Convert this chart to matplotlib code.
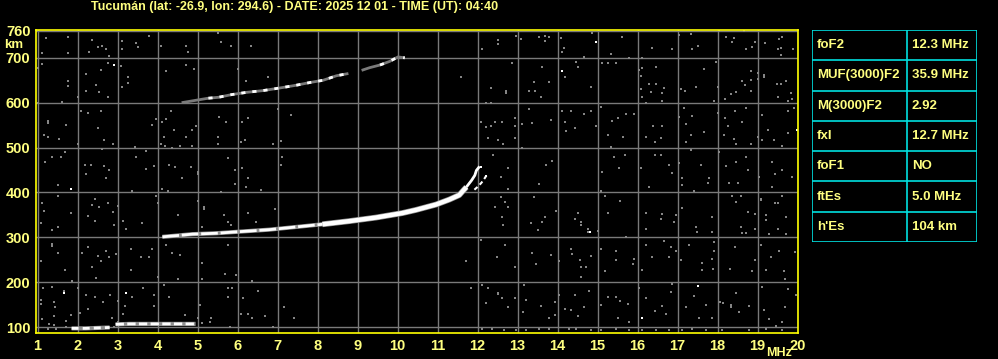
import matplotlib.pyplot as plt

plt.rcParams['font.family'] = ['Liberation Sans Narrow', 'Liberation Sans', 'DejaVu Sans']
plt.rcParams['font.weight'] = 'bold'

# Titulo e tabela de parametros
titulo = "Tucumán (lat: -26.9, lon: 294.6) - DATE: 2025 12 01 - TIME (UT): 04:40"
param_nomes = ["foF2", "MUF(3000)F2", "M(3000)F2", "fxI", "foF1", "ftEs", "h'Es"]
param_valores = ["12.3 MHz", "35.9 MHz", "2.92", "12.7 MHz", "NO", "5.0 MHz", "104 km"]

# Traco F2 (modo ordinario), MHz / km
f2o_freq = [4.12, 4.5, 4.87, 5.46, 6.12, 6.79, 7.46, 8.12]
f2o_h = [301, 304, 307, 309, 313, 317, 323, 329]
f2o_freq_b = [8.12, 8.79, 9.46, 10.12, 10.46, 10.96, 11.29, 11.54, 11.72]
f2o_h_b = [329, 336, 344, 354, 361, 373, 384, 394, 412]
f2o_freq_c = [11.72, 11.85, 11.93, 11.97, 12.05]
f2o_h_c = [412, 427, 438, 449, 458]

# Traco F2 (modo extraordinario)
f2x_freq = [11.92, 12.02, 12.1, 12.18, 12.25]
f2x_h = [406, 414, 422, 432, 442]

# Segunda reflexao F2
hop2_freq = [4.6, 5.0, 5.27, 5.52, 5.85, 6.22, 6.64, 7.14, 7.47, 7.81, 8.14, 8.47, 8.77]
hop2_h = [600, 606, 610, 612, 618, 623, 627, 634, 639, 645, 650, 660, 665]
hop2b_freq = [9.1, 9.3, 9.56, 9.8, 10.01, 10.18]
hop2b_h = [672, 678, 684, 692, 702, 700]

# Camada Es
es1_freq = [1.85, 2.2, 2.5, 2.8]
es1_h = [97, 97, 98, 99]
es2_freq = [2.95, 3.3, 3.7, 4.1, 4.5, 4.95]
es2_h = [106, 107, 107, 107, 107, 107]

# Pontos de ruido
ruido = [
    (1.21, 744), (1.77, 746), (1.12, 710), (1.77, 710), (1.12, 687), (1.02, 678), (1.77, 649),
    (1.77, 638), (1.62, 602), (1.02, 600), (2.37, 739), (2.5, 724), (2.62, 727), (2.29, 714),
    (2.71, 720), (2.79, 704), (2.77, 689), (2.2, 664), (2.58, 673), (2.47, 640),
    (2.54, 623), (2.22, 625), (2.0, 613), (2.77, 613), (3.1, 738), (3.12, 720), (3.47, 732),
    (3.5, 723), (3.79, 749), (4.08, 727), (3.08, 682), (3.25, 658), (3.27, 644), (3.12, 636),
    (4.22, 671), (4.72, 727), (4.77, 714), (4.72, 684), (4.92, 675), (5.52, 755), (5.58, 735),
    (5.83, 727), (6.33, 727), (6.22, 649), (6.77, 657), (6.02, 676),
    (1.27, 560), (1.27, 554), (1.17, 527), (1.27, 524), (1.54, 518), (1.72, 551), (2.08, 582),
    (2.27, 578), (2.58, 582), (2.52, 543), (2.67, 516), (2.89, 507), (2.02, 507), (2.62, 496),
    (1.58, 478), (1.37, 480), (1.69, 489), (1.19, 467), (2.19, 462), (2.33, 462), (2.22, 440),
    (2.67, 458), (2.79, 449), (2.72, 433), (3.44, 502), (3.47, 480), (3.72, 493), (3.72, 453),
    (3.92, 458), (3.87, 551), (3.97, 564), (4.12, 556), (4.22, 564), (4.33, 582), (4.17, 524),
    (4.08, 507), (4.19, 504), (4.37, 500), (4.42, 540), (4.56, 504), (4.72, 524), (4.87, 540),
    (4.87, 504), (4.97, 547), (4.29, 462), (4.44, 456), (4.62, 433), (4.83, 456), (5.02, 445),
    (5.02, 440), (5.54, 569), (5.72, 558), (6.12, 558), (6.27, 565), (5.52, 524), (5.5, 507),
    (6.08, 512), (6.19, 516), (5.77, 476), (5.94, 449), (6.12, 455), (6.27, 433), (6.89, 507),
    (7.08, 514), (7.12, 480), (7.08, 462), (7.02, 586), (7.33, 573),
    (12.12, 719), (12.52, 739), (12.52, 730), (12.97, 749), (13.08, 742), (13.54, 746),
    (13.68, 749), (13.79, 746), (13.68, 738), (14.08, 744), (14.16, 722), (14.12, 714),
    (14.87, 756), (15.62, 746), (15.33, 708), (14.67, 702), (15.79, 700), (16.12, 700),
    (16.37, 722), (16.87, 719), (17.04, 750), (17.33, 752), (17.52, 727), (17.37, 719),
    (18.04, 759), (18.2, 746), (18.41, 744), (18.37, 735), (18.66, 759), (18.71, 719),
    (18.87, 724), (18.94, 735), (19.19, 732), (19.54, 742), (19.62, 746), (19.58, 722),
    (19.5, 719), (19.58, 707), (19.89, 719), (11.58, 658), (12.87, 688), (12.72, 627),
    (12.72, 622), (12.33, 633), (12.22, 600), (12.33, 600), (13.62, 680), (13.42, 645),
    (13.29, 627), (13.43, 627), (13.58, 613), (13.79, 645), (14.18, 658), (14.47, 690),
    (14.52, 679), (14.83, 636), (15.12, 689), (15.27, 689), (15.47, 689), (16.04, 673),
    (16.08, 660), (16.12, 677), (16.29, 641), (16.47, 679), (16.47, 641), (16.08, 630),
    (16.33, 623), (16.62, 621), (16.66, 633), (16.12, 612), (16.22, 600), (16.62, 604),
    (17.08, 630), (17.19, 627), (17.47, 636), (17.67, 675), (17.97, 690), (18.02, 636),
    (17.91, 604), (18.19, 608), (18.33, 619), (18.47, 623), (18.62, 649), (18.69, 640),
    (18.83, 671), (18.83, 651), (18.83, 627), (19.02, 667), (19.02, 653), (19.17, 662),
    (19.17, 658), (19.48, 641), (19.58, 641), (19.72, 649), (19.83, 621), (19.52, 612),
    (19.77, 604), (19.87, 608),
    (12.08, 558), (12.22, 545), (12.33, 547), (12.44, 556), (12.62, 556), (12.94, 566),
    (12.94, 547), (12.27, 521), (12.5, 517), (12.64, 507), (12.94, 521), (13.12, 500),
    (13.12, 552), (13.29, 587), (13.37, 554), (13.83, 561), (14.12, 582), (14.33, 582),
    (14.67, 575), (14.83, 582), (14.18, 558), (14.22, 538), (14.43, 544), (14.97, 549),
    (15.08, 591), (15.27, 529), (15.37, 560), (15.52, 566), (15.72, 575), (15.91, 575),
    (15.64, 524), (15.33, 502), (16.2, 523), (16.39, 547), (16.58, 521), (16.44, 512),
    (16.62, 547), (17.04, 569), (17.17, 588), (17.37, 571), (17.22, 552), (17.33, 529),
    (17.22, 512), (17.67, 534), (17.33, 495), (18.0, 578), (18.19, 566), (18.27, 549),
    (18.43, 582), (18.62, 556), (18.71, 588), (18.83, 508), (19.0, 524), (19.12, 516),
    (19.27, 540), (19.12, 573), (19.41, 517), (19.62, 504), (19.77, 582), (19.77, 532),
    (19.91, 589), (18.17, 529), (18.41, 519), (18.46, 508), (12.39, 484), (12.58, 434),
    (12.77, 455), (13.87, 471), (13.72, 462), (15.12, 445), (15.42, 480), (15.54, 455),
    (15.69, 484), (16.08, 455), (16.44, 484), (16.58, 484), (16.79, 462), (16.87, 443),
    (17.04, 465), (17.12, 433), (17.58, 462), (17.79, 433), (18.04, 490), (18.22, 458),
    (18.47, 467), (18.72, 480), (18.77, 449), (19.04, 434), (19.37, 467), (19.44, 441),
    (19.62, 449), (19.86, 434),
    (1.5, 416), (1.11, 376), (1.52, 393), (1.17, 358), (1.08, 332), (1.37, 317), (1.5, 324),
    (1.83, 354), (2.44, 386), (2.37, 373), (2.54, 367), (2.77, 376), (2.89, 356), (3.02, 369),
    (2.27, 347), (2.44, 336), (2.92, 327), (3.14, 336), (3.21, 319), (3.62, 332), (3.37, 404),
    (3.97, 393), (4.02, 376), (4.12, 408), (4.27, 403), (4.52, 349), (5.02, 381), (5.17, 367),
    (5.17, 362), (5.12, 323), (5.67, 349), (5.77, 334), (5.83, 327), (6.27, 354), (6.46, 334),
    (5.94, 419), (6.22, 412), (6.58, 406), (5.58, 401), (6.94, 362), (1.37, 284), (1.37, 280),
    (1.52, 265), (1.08, 247), (1.69, 228), (1.87, 203), (2.12, 265), (2.25, 278), (2.5, 258),
    (2.58, 247), (2.72, 269), (2.79, 256), (2.96, 262), (2.36, 234), (2.47, 210), (3.33, 273),
    (3.33, 228), (3.58, 255), (3.79, 255), (3.87, 275), (4.02, 212), (4.2, 282), (4.36, 265),
    (4.52, 206), (4.56, 260), (5.12, 243), (5.12, 206), (5.69, 219), (5.77, 282), (5.96, 216),
    (6.37, 203), (1.14, 188), (1.37, 190), (1.66, 180), (1.08, 160), (1.08, 151), (1.42, 156),
    (1.44, 145), (1.42, 124), (1.11, 117), (1.29, 107), (1.42, 104), (2.02, 186), (2.22, 171),
    (2.44, 166), (2.27, 141), (2.06, 132), (1.83, 127), (1.72, 114), (2.64, 156), (2.81, 171),
    (3.02, 158), (3.37, 166), (3.19, 147), (2.86, 121), (3.14, 129), (3.64, 188), (3.92, 171),
    (3.92, 147), (4.17, 193), (4.29, 167), (4.69, 127), (5.06, 149), (5.0, 121), (5.33, 121),
    (5.75, 167), (5.75, 188), (5.86, 188), (6.14, 164), (6.08, 130), (6.27, 129), (6.37, 121),
    (6.5, 181), (6.69, 124), (7.17, 144), (7.42, 121), (5.81, 101), (6.89, 101),
    (12.77, 408), (13.54, 419), (15.08, 404), (16.29, 412), (17.12, 416), (17.42, 403),
    (17.77, 421), (18.29, 421), (18.52, 421), (19.37, 412), (12.58, 390), (12.69, 379),
    (12.77, 367), (12.44, 367), (12.61, 345), (12.64, 327), (13.42, 390), (13.33, 332),
    (13.61, 334), (13.69, 345), (13.52, 317), (13.97, 358), (14.52, 354), (14.44, 341),
    (14.58, 334), (14.58, 327), (14.77, 318), (14.77, 312), (15.02, 314), (15.27, 354),
    (15.56, 381), (15.18, 393), (16.22, 354), (16.62, 353), (16.58, 341), (16.91, 334),
    (16.95, 349), (16.22, 319), (17.12, 366), (17.45, 324), (17.49, 312), (17.87, 345),
    (17.87, 312), (18.37, 393), (18.47, 379), (18.58, 393), (18.77, 356), (18.58, 323),
    (18.62, 310), (18.72, 310), (19.08, 386), (19.08, 383), (19.44, 376), (19.52, 376),
    (19.62, 393), (19.22, 349), (19.22, 338), (19.52, 319), (19.72, 345), (19.71, 307),
    (19.29, 307), (18.94, 351), (18.94, 318),
    (11.72, 247), (12.08, 295), (12.69, 282), (12.48, 255), (12.94, 233), (13.37, 265),
    (13.47, 241), (13.83, 260), (14.04, 247), (14.33, 275), (14.37, 262), (14.56, 249),
    (14.58, 233), (14.83, 258), (14.58, 212), (14.72, 233), (15.08, 273), (15.19, 225),
    (15.46, 249), (15.47, 270), (15.72, 301), (15.91, 252), (15.89, 241), (16.12, 228),
    (16.22, 282), (16.37, 255), (16.66, 292), (16.83, 278), (16.79, 256), (16.95, 269),
    (17.08, 250), (17.29, 282), (17.61, 243), (17.62, 228), (17.87, 252), (17.89, 230),
    (17.91, 269), (17.91, 289), (18.31, 230), (18.43, 278), (18.87, 225), (18.94, 250),
    (19.08, 282), (19.22, 228), (19.33, 255), (19.54, 269), (19.66, 225), (19.68, 208),
    (19.94, 267),
    (11.83, 186), (12.12, 193), (12.27, 188), (12.52, 176), (12.52, 173), (12.22, 154),
    (12.61, 164), (12.77, 144), (12.94, 164), (13.17, 193), (13.22, 161), (13.14, 134),
    (13.58, 147), (13.79, 121), (13.94, 127), (13.94, 156), (14.04, 171), (14.19, 141),
    (14.33, 138), (14.44, 171), (14.52, 124), (14.67, 145), (14.79, 181), (15.08, 149),
    (15.27, 166), (15.46, 167), (15.56, 158), (15.77, 151), (15.52, 121), (15.79, 112),
    (16.03, 186), (16.22, 164), (16.44, 136), (16.6, 147), (16.7, 130), (16.83, 178),
    (16.87, 196), (17.22, 144), (17.41, 169), (17.54, 121), (17.71, 149), (17.87, 121),
    (18.06, 156), (18.14, 154), (18.33, 149), (18.33, 145), (18.47, 176), (18.54, 134),
    (18.79, 147), (19.12, 190), (19.17, 138), (19.29, 117), (19.46, 102), (19.62, 112),
    (19.68, 144), (19.77, 184), (19.96, 171),
    (12.12, 95), (12.37, 95), (12.67, 94), (12.96, 94), (13.21, 94), (13.54, 96), (13.79, 95),
    (14.29, 95), (14.46, 95), (14.83, 94), (15.08, 94), (15.46, 95), (15.78, 94), (16.12, 94),
    (16.46, 94), (16.79, 94), (17.12, 94), (17.37, 95), (17.71, 94), (18.12, 94), (18.78, 94),
    (19.2, 96), (19.62, 94), (1.25, 95), (1.45, 96), (1.7, 100), (2.9, 100), (3.0, 112),
    (5.1, 110), (5.3, 112),
]
# pontos brancos isolados
ruido_branco = [(2.92, 683), (14.95, 736), (14.12, 671), (1.83, 408), (3.22, 175), (12.08, 456),
                (12.22, 436), (14.82, 312), (16.12, 121), (17.52, 191), (19.98, 540), (1.66, 175)]

amarelo = '#ffff80'
cinza = '#7a7a7a'

fig = plt.figure(figsize=(9.98, 3.59), dpi=100, facecolor='black')
ax = fig.add_axes([36 / 998, 1 - 333 / 359, 762 / 998, 303 / 359], facecolor='black')

ax.set_xlim(0.96, 20.01)
ax.set_ylim(86.7, 762)

ax.set_xticks(range(1, 21))
ax.set_yticks([100, 200, 300, 400, 500, 600, 700, 760])
ax.grid(True, color=cinza, linewidth=1, zorder=0)
ax.tick_params(length=0, colors=amarelo, labelsize=10.5, pad=4)
for lab in ax.get_xticklabels() + ax.get_yticklabels():
    lab.set_fontweight('bold')
for s in ax.spines.values():
    s.set_color('#ffff00')
    s.set_linewidth(1.2)
    s.set_zorder(5)

# ruido
ax.scatter([p[0] for p in ruido], [p[1] for p in ruido], marker='s', s=4,
           c='#858585', linewidths=0, zorder=2)
ax.scatter([p[0] for p in ruido_branco], [p[1] for p in ruido_branco], marker='s', s=4,
           c='white', linewidths=0, zorder=3)

# tracos
ax.plot(f2o_freq, f2o_h, color='#909090', lw=3.0, solid_capstyle='butt', zorder=3)
ax.plot(f2o_freq, f2o_h, color='white', lw=2.0, dashes=(6, 1), zorder=4)
ax.plot(f2o_freq_b, f2o_h_b, color='#909090', lw=4.2, solid_capstyle='butt', zorder=3)
ax.plot(f2o_freq_b, f2o_h_b, color='white', lw=3.2, solid_capstyle='butt', zorder=4)
ax.plot(f2o_freq_c, f2o_h_c, color='white', lw=2.0, solid_capstyle='butt', zorder=4)
ax.plot(f2x_freq, f2x_h, color='white', lw=1.5, dashes=(2, 1.5), zorder=4)
ax.plot(hop2_freq, hop2_h, color=cinza, lw=2.0, solid_capstyle='butt', zorder=3)
ax.plot(hop2_freq[2:], hop2_h[2:], color='white', lw=2.0, dashes=(1.5, 2.5), zorder=4)
ax.plot(hop2b_freq, hop2b_h, color=cinza, lw=2.0, solid_capstyle='butt', zorder=3)
ax.plot(hop2b_freq[2:], hop2b_h[2:], color='white', lw=2.0, dashes=(1.5, 3), zorder=4)
ax.plot(es1_freq, es1_h, color='#909090', lw=3.0, solid_capstyle='butt', zorder=3)
ax.plot(es1_freq, es1_h, color='white', lw=2.0, dashes=(2.5, 1.5), zorder=4)
ax.plot(es2_freq, es2_h, color='#909090', lw=3.0, solid_capstyle='butt', zorder=3)
ax.plot(es2_freq, es2_h, color='white', lw=2.0, dashes=(3, 1.2), zorder=4)

# rotulos
fig.text(295 / 998, 1 - 7 / 359, titulo, color=amarelo, fontsize=9, fontweight='bold',
         ha='center', va='center')
fig.text(14 / 998, 1 - 45 / 359, 'km', color=amarelo, fontsize=9.5, fontweight='bold',
         ha='center', va='center')
fig.text(779 / 998, 1 - 353 / 359, 'MHz', color=amarelo, fontsize=9, fontweight='bold',
         ha='center', va='center')

# tabela de parametros
tab = fig.add_axes([812 / 998, 1 - 242 / 359, 165 / 998, 212 / 359], facecolor='black')
tab.set_xlim(0, 165)
tab.set_ylim(212, 0)
tab.axis('off')
ciano = '#00e0e0'
n = len(param_nomes)
altura = 212 / n
for i in range(n + 1):
    tab.plot([0, 165], [i * altura, i * altura], color=ciano, lw=1.2)
tab.plot([0, 0], [0, 212], color=ciano, lw=1.2)
tab.plot([165, 165], [0, 212], color=ciano, lw=1.2)
tab.plot([95, 95], [0, 212], color=ciano, lw=1.2)
for i in range(n):
    yc = (i + 0.5) * altura
    tab.text(5, yc, param_nomes[i], color=amarelo, fontsize=9.5, fontweight='bold', va='center')
    tab.text(100, yc, param_valores[i], color=amarelo, fontsize=9.5, fontweight='bold', va='center')

fig.savefig('out.png', dpi=100, facecolor='black')
